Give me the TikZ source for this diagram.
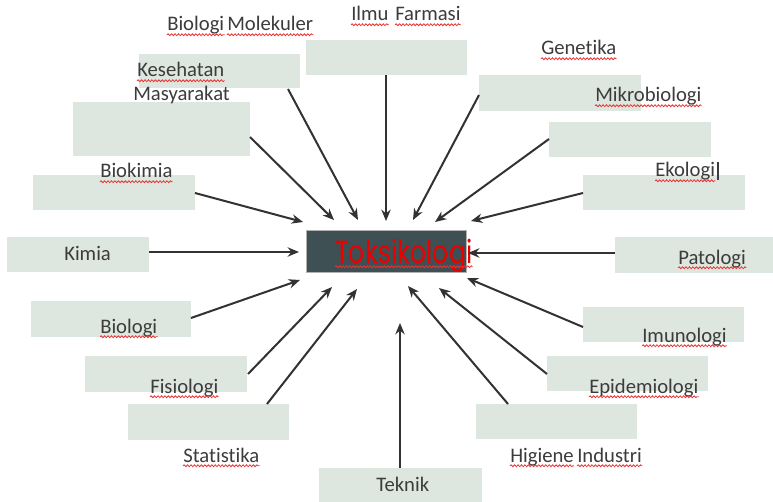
\documentclass[tikz,border=0pt]{standalone}
\usepackage{fontspec}
\setmainfont{Carlito}[Ligatures={NoCommon}]
\newfontfamily\gothic{Poppins}
\usetikzlibrary{arrows.meta,decorations.pathmorphing}
\definecolor{boxfill}{RGB}{221,230,223}
\definecolor{darkbox}{RGB}{62,80,84}
\definecolor{txt}{RGB}{60,60,60}
\definecolor{arr}{RGB}{50,50,50}
\definecolor{sqred}{RGB}{232,50,50}
\definecolor{tred}{RGB}{235,0,0}
\tikzset{
 gbox/.style={fill=boxfill, draw=none, inner sep=0pt},
 lbl/.style={font=\fontsize{15.5}{18}\selectfont, text=txt, anchor=base west, inner sep=0pt},
 conn/.style={draw=arr, line width=1.5pt, -{Stealth[length=8.5pt,width=7pt]}},
 squig/.style={draw=sqred, line width=0.6pt, decorate, decoration={snake, amplitude=0.7pt, segment length=2.6pt}},
}
\newcommand\mkbox[5]{\node[gbox,anchor=north west,minimum width=#4*0.75pt,minimum height=#5*0.75pt] (#1) at (#2,#3) {};}
\newcommand\wavy[1]{\draw[squig] ([yshift=-2.8pt]#1.base west) -- ([yshift=-2.8pt]#1.base east);}
\begin{document}
\begin{tikzpicture}[x=0.75pt,y=-0.75pt]
\clip (0,0) rectangle (773,502);
\fill[white] (0,0) rectangle (773,502);
% boxes
\mkbox{bA}{139}{54}{161}{34}
\mkbox{bB}{306}{40}{161}{35}
\mkbox{bC}{73}{102}{177}{54}
\mkbox{bD}{479}{75}{162}{36}
\mkbox{bE}{549}{122}{162}{35}
\mkbox{bF}{583}{175}{162}{35}
\mkbox{bG}{33}{175}{162}{35}
\mkbox{bH}{7}{237}{142}{35}
\mkbox{bI}{615}{237}{165}{36}
\mkbox{bJ}{31}{301}{160}{36}
\mkbox{bK}{583}{307}{161}{35}
\mkbox{bL}{85}{356}{162}{36}
\mkbox{bM}{547}{356}{161}{35}
\mkbox{bN}{128}{404}{161}{36}
\mkbox{bO}{476}{404}{161}{35}
\mkbox{bP}{319}{468}{163}{40}
% centre
\node[fill=darkbox, draw=gray!60, line width=0.5pt, anchor=north west, minimum width=160*0.75pt, minimum height=42*0.75pt, inner sep=0pt] (tbox) at (306,230) {};
% labels
\node[lbl] (l1a) at (167,31) {Biologi};
\node[lbl] (l1b) at (227,31) {Molekuler};
\node[lbl] (l2a) at (351,21) {Ilmu};
\node[lbl] (l2b) at (395,21) {Farmasi};
\node[lbl] (l3a) at (137,77) {Kesehatan};
\node[lbl] (l3b) at (133,101) {Masyarakat};
\node[lbl] (l4) at (541,55) {Genetika};
\node[lbl] (l5) at (595,102) {Mikrobiologi};
\node[lbl] (l6) at (655,177) {Ekologi};
\node[lbl] (l7) at (100,178) {Biokimia};
\node[lbl] (l8) at (64,260) {Kimia};
\node[lbl] (l9) at (678,264) {Patologi};
\node[lbl] (l10) at (100,333) {Biologi};
\node[lbl] (l11) at (642,342) {Imunologi};
\node[lbl] (l12) at (150,393) {Fisiologi};
\node[lbl] (l13) at (589,393) {Epidemiologi};
\node[lbl] (l14) at (183,462) {Statistika};
\node[lbl] (l15a) at (510,462) {Higiene};
\node[lbl] (l15b) at (577,462) {Industri};
\node[lbl] (l16) at (376,491) {Teknik};
\node[anchor=base west, inner sep=0pt, text=tred, font=\gothic\fontsize{24}{28}\selectfont] (tox) at (335,263) {\scalebox{0.79}[1]{Toksikologi}};
% text cursor after Ekologi
\draw[txt, line width=0.8pt] (718,162) -- (718,180);
% spell-check underlines
\foreach \n in {l1a,l1b,l2a,l2b,l3a,l4,l5,l6,l7,l9,l10,l11,l12,l13,l14,l15a,l15b,tox}{\wavy{\n}}
% connector ends
\coordinate (sA) at (288,89);  \coordinate (tA) at (358,220);
\coordinate (sB) at (386,75);  \coordinate (tB) at (386,221);
\coordinate (sC) at (250,137); \coordinate (tC) at (334,220);
\coordinate (sD) at (479,95);  \coordinate (tD) at (413,220);
\coordinate (sE) at (549,139); \coordinate (tE) at (435,222);
\coordinate (sF) at (583,193); \coordinate (tF) at (471,221);
\coordinate (sG) at (195,193); \coordinate (tG) at (303,222);
\coordinate (sH) at (149,252); \coordinate (tH) at (299,252);
\coordinate (sI) at (615,253); \coordinate (tI) at (468,253);
\coordinate (sJ) at (191,318); \coordinate (tJ) at (300,280);
\coordinate (sK) at (583,327); \coordinate (tK) at (467,278);
\coordinate (sL) at (248,374); \coordinate (tL) at (332,287);
\coordinate (sM) at (547,374); \coordinate (tM) at (439,288);
\coordinate (sN) at (267,404); \coordinate (tN) at (357,289);
\coordinate (sO) at (508,404); \coordinate (tO) at (408,286);
\coordinate (sP) at (400,468); \coordinate (tP) at (400,323);
\foreach \k in {A,B,C,D,E,F,G,H,I,J,K,L,M,N,O,P}{\draw[conn] (s\k) -- (t\k);}
\end{tikzpicture}
\end{document}
